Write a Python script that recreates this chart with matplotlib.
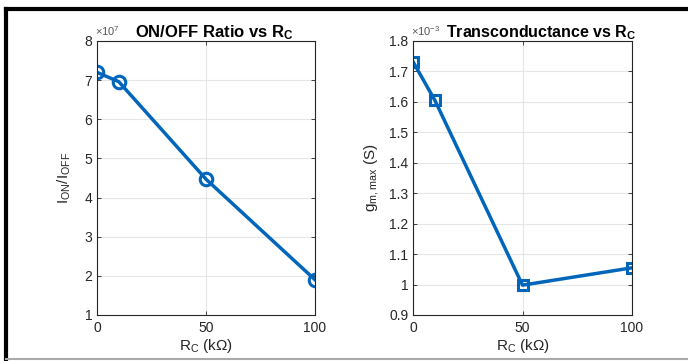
import numpy as np
import matplotlib.pyplot as plt
from matplotlib.lines import Line2D
from matplotlib.ticker import FuncFormatter

# ── Data ──────────────────────────────────────────────────────────────────────
RC_KOHM    = [0, 10, 50, 100]
ON_OFF     = [7.20e7, 6.96e7, 4.47e7, 1.90e7]
GM_MAX     = [1.732e-3, 1.605e-3, 0.998e-3, 1.055e-3]
X_TICKS    = [0, 50, 100]
ON_TICKS   = [1e7, 2e7, 3e7, 4e7, 5e7, 6e7, 7e7, 8e7]
GM_TICKS   = [0.9e-3, 1.0e-3, 1.1e-3, 1.2e-3, 1.3e-3, 1.4e-3, 1.5e-3,
              1.6e-3, 1.7e-3, 1.8e-3]
ON_EXP     = 7
GM_EXP     = -3

BLUE = "#0066BB"

plt.rcParams["font.family"] = ["Liberation Sans", "DejaVu Sans"]
plt.rcParams["mathtext.fontset"] = "custom"
plt.rcParams["mathtext.rm"] = "Liberation Sans"
plt.rcParams["mathtext.it"] = "Liberation Sans"
plt.rcParams["mathtext.bf"] = "Liberation Sans:bold"

W, H = 688, 361
fig = plt.figure(figsize=(W / 100, H / 100), dpi=100)


def px_box(x0, x1, y0, y1):
    """Convert pixel box (top-left origin) to figure fraction rect."""
    return [x0 / W, 1 - y1 / H, (x1 - x0) / W, (y1 - y0) / H]


def style_axes(ax, exp):
    ax.grid(True, color="#e6e6e6", linewidth=0.8)
    ax.set_axisbelow(True)
    ax.tick_params(direction="in", top=True, right=True, length=3,
                   labelsize=10, colors="#262626", width=0.6)
    ax.tick_params(axis="x", pad=4)
    for s in ax.spines.values():
        s.set_color("#262626")
        s.set_linewidth(0.8)
    ax.set_xlim(0, 100)
    ax.set_xticks(X_TICKS)
    scale = 10.0 ** exp
    ax.yaxis.set_major_formatter(FuncFormatter(lambda v, p: f"{round(v / scale, 6):g}"))
    ax.text(-0.01, 1.012, rf"$\times$10$^{{{exp}}}$", transform=ax.transAxes,
            fontsize=8, color="#555555", ha="left", va="bottom")


# ── Left: ON/OFF ratio ────────────────────────────────────────────────────────
ax1 = fig.add_axes(px_box(97, 315, 41, 315))
ax1.plot(RC_KOHM, ON_OFF, "-o", color=BLUE, lw=2.5, ms=9,
         mfc="none", mew=2.2)
ax1.set_ylim(1e7, 8e7)
ax1.set_yticks(ON_TICKS)
style_axes(ax1, ON_EXP)
ax1.set_xlabel(r"R$_\mathregular{C}$ (k$\Omega$)", fontsize=11,
               color="#262626", labelpad=2)
ax1.set_ylabel(r"I$_\mathregular{ON}$/I$_\mathregular{OFF}$", fontsize=11,
               color="#262626", labelpad=8)
ax1.set_title(r"ON/OFF Ratio vs R$_\mathbf{C}$", fontsize=12,
              fontweight="bold", pad=3, x=0.54)

# ── Right: transconductance ───────────────────────────────────────────────────
ax2 = fig.add_axes(px_box(413, 632, 41, 315))
ax2.plot(RC_KOHM, GM_MAX, "-s", color=BLUE, lw=2.5, ms=7,
         mfc="none", mew=2.2)
ax2.set_ylim(0.9e-3, 1.8e-3)
ax2.set_yticks(GM_TICKS)
style_axes(ax2, GM_EXP)
ax2.set_xlabel(r"R$_\mathregular{C}$ (k$\Omega$)", fontsize=11,
               color="#262626", labelpad=2)
ax2.set_ylabel(r"g$_\mathregular{m,max}$ (S)", fontsize=11, color="#262626",
               labelpad=6)
ax2.set_title(r"Transconductance vs R$_\mathbf{C}$", fontsize=11.5,
              fontweight="bold", pad=3, x=0.585)

# ── Frame lines ───────────────────────────────────────────────────────────────
fig.add_artist(Line2D([6 / W, 1], [1 - 9 / H, 1 - 9 / H], color="black", lw=3))
fig.add_artist(Line2D([6 / W, 6 / W], [0, 1 - 9 / H], color="black", lw=3))
fig.add_artist(Line2D([6 / W, 1], [2 / H, 2 / H], color="#aaaaaa", lw=1.5))

fig.savefig("out.png", dpi=100)
